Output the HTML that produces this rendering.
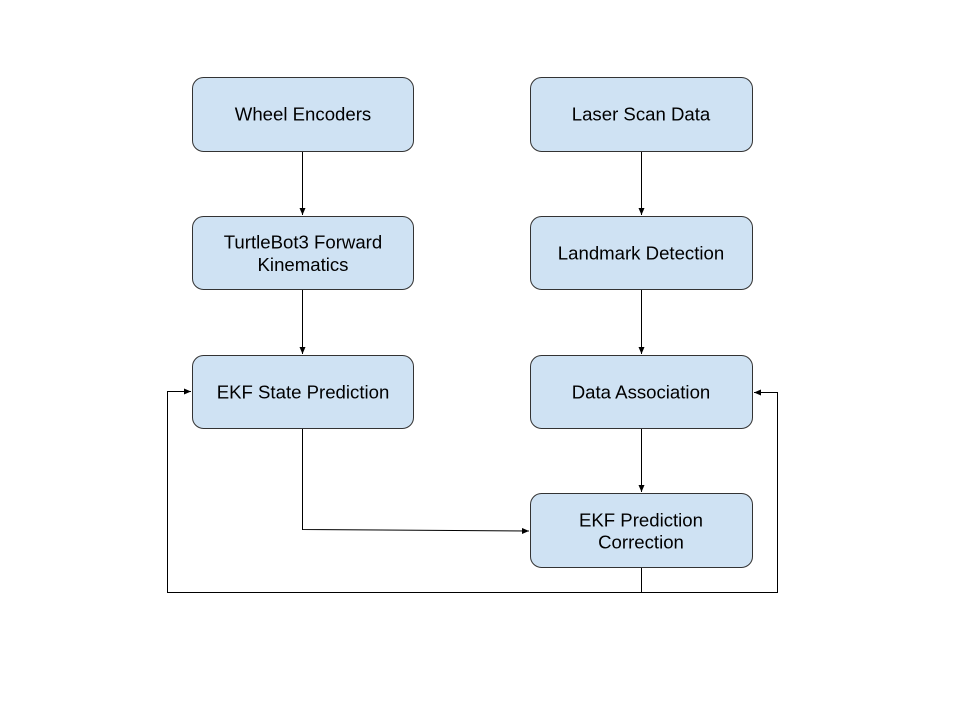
<!DOCTYPE html>
<html><head><style>body{margin:0;background:#fff}</style></head><body>
<svg width="960" height="720" viewBox="0 0 960 720" xmlns="http://www.w3.org/2000/svg" style="display:block">
<defs><marker id="a" markerWidth="8" markerHeight="6" refX="7" refY="3" orient="auto" markerUnits="userSpaceOnUse"><path d="M0,0 L7,3 L0,6 z" fill="#000"/></marker></defs>
<g fill="#cfe2f3" stroke="#333" stroke-width="1">
<rect x="192.5" y="77.5" width="221" height="74" rx="11"/>
<rect x="530.5" y="77.5" width="222" height="74" rx="11"/>
<rect x="192.5" y="216.5" width="221" height="73" rx="11"/>
<rect x="530.5" y="216.5" width="222" height="73" rx="11"/>
<rect x="192.5" y="355.5" width="221" height="73" rx="11"/>
<rect x="530.5" y="355.5" width="222" height="73" rx="11"/>
<rect x="530.5" y="493.5" width="222" height="74" rx="11"/>
</g>
<g stroke="#000" stroke-width="1" fill="none">
<line x1="302.5" y1="152" x2="302.5" y2="215" marker-end="url(#a)"/>
<line x1="302.5" y1="290" x2="302.5" y2="354" marker-end="url(#a)"/>
<line x1="641.5" y1="152" x2="641.5" y2="215" marker-end="url(#a)"/>
<line x1="641.5" y1="290" x2="641.5" y2="354" marker-end="url(#a)"/>
<line x1="641.5" y1="429" x2="641.5" y2="492" marker-end="url(#a)"/>
<polyline points="302.5,429 302.5,529.5 529,531" marker-end="url(#a)"/>
<polyline points="641.5,568 641.5,592.5 167.5,592.5 167.5,391.5 191,391.5" marker-end="url(#a)"/>
<polyline points="641.5,592.5 777.5,592.5 777.5,392.5 754,392.5" marker-end="url(#a)"/>
</g>
<g font-family="Liberation Sans, sans-serif" font-size="18.6" fill="#000" text-anchor="middle">
<text x="303" y="120.5">Wheel Encoders</text>
<text x="641" y="120.5">Laser Scan Data</text>
<text x="303" y="248.5">TurtleBot3 Forward</text>
<text x="303" y="271">Kinematics</text>
<text x="641" y="259.5">Landmark Detection</text>
<text x="303" y="398.5">EKF State Prediction</text>
<text x="641" y="398.5">Data Association</text>
<text x="641" y="526.5">EKF Prediction</text>
<text x="641" y="548.5">Correction</text>
</g>
</svg>
</body></html>
